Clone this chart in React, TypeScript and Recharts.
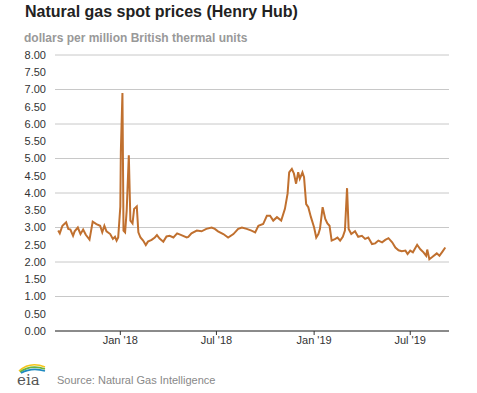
import React from 'react';
import { LineChart, Line, XAxis, YAxis, CartesianGrid } from 'recharts';

// Henry Hub spot price readings (dollars per MMBtu)
const dates = [
  '2017-09-06', '2017-09-09', '2017-09-14', '2017-09-21', '2017-09-25', '2017-09-29',
  '2017-10-04', '2017-10-07', '2017-10-13', '2017-10-18', '2017-10-23', '2017-10-28',
  '2017-11-04', '2017-11-10', '2017-11-17', '2017-11-24', '2017-11-28', '2017-12-02',
  '2017-12-06', '2017-12-13', '2017-12-18', '2017-12-22', '2017-12-25', '2017-12-28',
  '2018-01-01', '2018-01-02', '2018-01-05', '2018-01-07', '2018-01-10', '2018-01-13',
  '2018-01-17', '2018-01-20', '2018-01-24', '2018-01-27', '2018-02-01', '2018-02-04',
  '2018-02-08', '2018-02-13', '2018-02-18', '2018-02-22', '2018-03-01', '2018-03-07',
  '2018-03-11', '2018-03-16', '2018-03-23', '2018-03-29', '2018-04-04', '2018-04-11',
  '2018-04-18', '2018-04-26', '2018-05-06', '2018-05-09', '2018-05-15', '2018-05-25',
  '2018-06-03', '2018-06-12', '2018-06-22', '2018-06-28', '2018-07-04', '2018-07-14',
  '2018-07-23', '2018-08-02', '2018-08-11', '2018-08-18', '2018-08-27', '2018-09-05',
  '2018-09-12', '2018-09-18', '2018-09-27', '2018-10-04', '2018-10-10', '2018-10-16',
  '2018-10-23', '2018-10-31', '2018-11-07', '2018-11-12', '2018-11-15', '2018-11-20',
  '2018-11-24', '2018-11-28', '2018-12-02', '2018-12-05', '2018-12-10', '2018-12-13',
  '2018-12-17', '2018-12-21', '2018-12-26', '2018-12-30', '2019-01-01', '2019-01-05',
  '2019-01-09', '2019-01-12', '2019-01-17', '2019-01-22', '2019-01-26', '2019-01-30',
  '2019-02-03', '2019-02-10', '2019-02-14', '2019-02-19', '2019-02-24', '2019-02-28',
  '2019-03-04', '2019-03-07', '2019-03-12', '2019-03-19', '2019-03-25', '2019-04-01',
  '2019-04-07', '2019-04-13', '2019-04-20', '2019-04-26', '2019-05-02', '2019-05-09',
  '2019-05-15', '2019-05-21', '2019-05-28', '2019-06-03', '2019-06-09', '2019-06-15',
  '2019-06-22', '2019-06-26', '2019-07-01', '2019-07-06', '2019-07-14', '2019-07-20',
  '2019-07-26', '2019-07-31', '2019-08-02', '2019-08-06', '2019-08-12', '2019-08-20',
  '2019-08-25', '2019-08-31', '2019-09-05',
];

const prices = [
  2.91, 2.83, 3.05, 3.15, 2.96, 2.94,
  2.76, 2.89, 3.0, 2.81, 2.94, 2.79,
  2.65, 3.17, 3.1, 3.05, 2.86, 3.05,
  2.89, 2.81, 2.67, 2.73, 2.62, 2.71,
  3.6, 5.2, 6.9, 2.91, 2.86, 3.49,
  5.09, 3.2, 3.12, 3.54, 3.61, 2.86,
  2.71, 2.62, 2.49, 2.59, 2.64, 2.71,
  2.78, 2.68, 2.59, 2.74, 2.76, 2.71,
  2.83, 2.78, 2.71, 2.73, 2.83, 2.91,
  2.89, 2.96, 3.0, 2.96, 2.89, 2.81,
  2.71, 2.81, 2.96, 3.0, 2.96, 2.91,
  2.86, 3.05, 3.1, 3.34, 3.34, 3.2,
  3.3, 3.2, 3.54, 3.98, 4.6, 4.7,
  4.56, 4.27, 4.6, 4.41, 4.6, 4.46,
  3.68, 3.59, 3.3, 3.1, 3.0, 2.71,
  2.81, 2.96, 3.59, 3.25, 3.12, 3.05,
  2.62, 2.67, 2.71, 2.62, 2.73, 2.91,
  4.14, 2.96, 2.81, 2.89, 2.73, 2.76,
  2.67, 2.71, 2.52, 2.54, 2.62, 2.57,
  2.64, 2.69, 2.57, 2.42, 2.34, 2.31,
  2.33, 2.23, 2.33, 2.28, 2.5, 2.37,
  2.28, 2.18, 2.36, 2.08, 2.15, 2.25,
  2.18, 2.31, 2.42,
];

const yTicks = [0, 0.5, 1, 1.5, 2, 2.5, 3, 3.5, 4, 4.5, 5, 5.5, 6, 6.5, 7, 7.5, 8];
const xTickDates = ['2018-01-01', '2018-07-01', '2019-01-01', '2019-07-01'];
const xTickLabels = ["Jan '18", "Jul '18", "Jan '19", "Jul '19"];
const xDomainDates = ['2017-08-31', '2019-09-12'];

const toTime = (s: string) => {
  const [y, m, d] = s.split('-').map(Number);
  return Date.UTC(y, m - 1, d);
};

const data = dates.map((d, i) => ({ t: toTime(d), price: prices[i] }));
const xTicks = xTickDates.map(toTime);

const font = 'Arial, "Liberation Sans", sans-serif';

const EiaLogo = () => (
  <svg width={36} height={28} viewBox="0 0 36 28">
    <path d="M4 9 Q15 -1 30 5" stroke="#f5c518" strokeWidth={1.6} fill="none" />
    <path d="M5 10 Q16 2 30 7" stroke="#6cb33f" strokeWidth={1.6} fill="none" />
    <path d="M6 11 Q17 5 30 9" stroke="#1f8ac0" strokeWidth={1.6} fill="none" />
    <text x={2} y={23} fontFamily='"DejaVu Serif", serif' fontSize={15} fill="#555">eia</text>
  </svg>
);

export default function App() {
  return (
    <div style={{ position: 'absolute', left: 0, top: 0, width: 477, height: 393, background: '#fff', fontFamily: font }}>
      <div style={{ position: 'absolute', left: 25, top: 3, fontSize: 16, fontWeight: 'bold', color: '#222' }}>
        Natural gas spot prices (Henry Hub)
      </div>
      <div style={{ position: 'absolute', left: 24, top: 31, fontSize: 12, fontWeight: 'bold', color: '#999' }}>
        dollars per million British thermal units
      </div>
      <div style={{ position: 'absolute', left: 0, top: 0 }}>
        <LineChart width={477} height={360} data={data} margin={{ top: 55, right: 28, bottom: 7, left: 0 }}>
          <CartesianGrid vertical={false} stroke="#c8c8c8" strokeWidth={1} />
          <XAxis
            dataKey="t"
            type="number"
            domain={[toTime(xDomainDates[0]), toTime(xDomainDates[1])]}
            ticks={xTicks}
            tickFormatter={(v: number) => xTickLabels[xTicks.indexOf(v)]}
            height={22}
            tickSize={4}
            tickMargin={1}
            axisLine={{ stroke: '#333' }}
            tickLine={{ stroke: '#333' }}
            tick={{ fontSize: 11, fill: '#333', fontFamily: font }}
          />
          <YAxis
            domain={[0, 8]}
            ticks={yTicks}
            tickFormatter={(v: number) => v.toFixed(2)}
            width={55}
            axisLine={false}
            tickLine={false}
            tickMargin={3}
            tick={{ fontSize: 11, fill: '#333', fontFamily: font }}
          />
          <Line
            type="linear"
            dataKey="price"
            stroke="#c0702f"
            strokeWidth={2}
            dot={false}
            isAnimationActive={false}
          />
        </LineChart>
      </div>
      <div style={{ position: 'absolute', left: 15, top: 362 }}>
        <EiaLogo />
      </div>
      <div style={{ position: 'absolute', left: 57, top: 374, fontSize: 11, color: '#888' }}>
        Source: Natural Gas Intelligence
      </div>
    </div>
  );
}
